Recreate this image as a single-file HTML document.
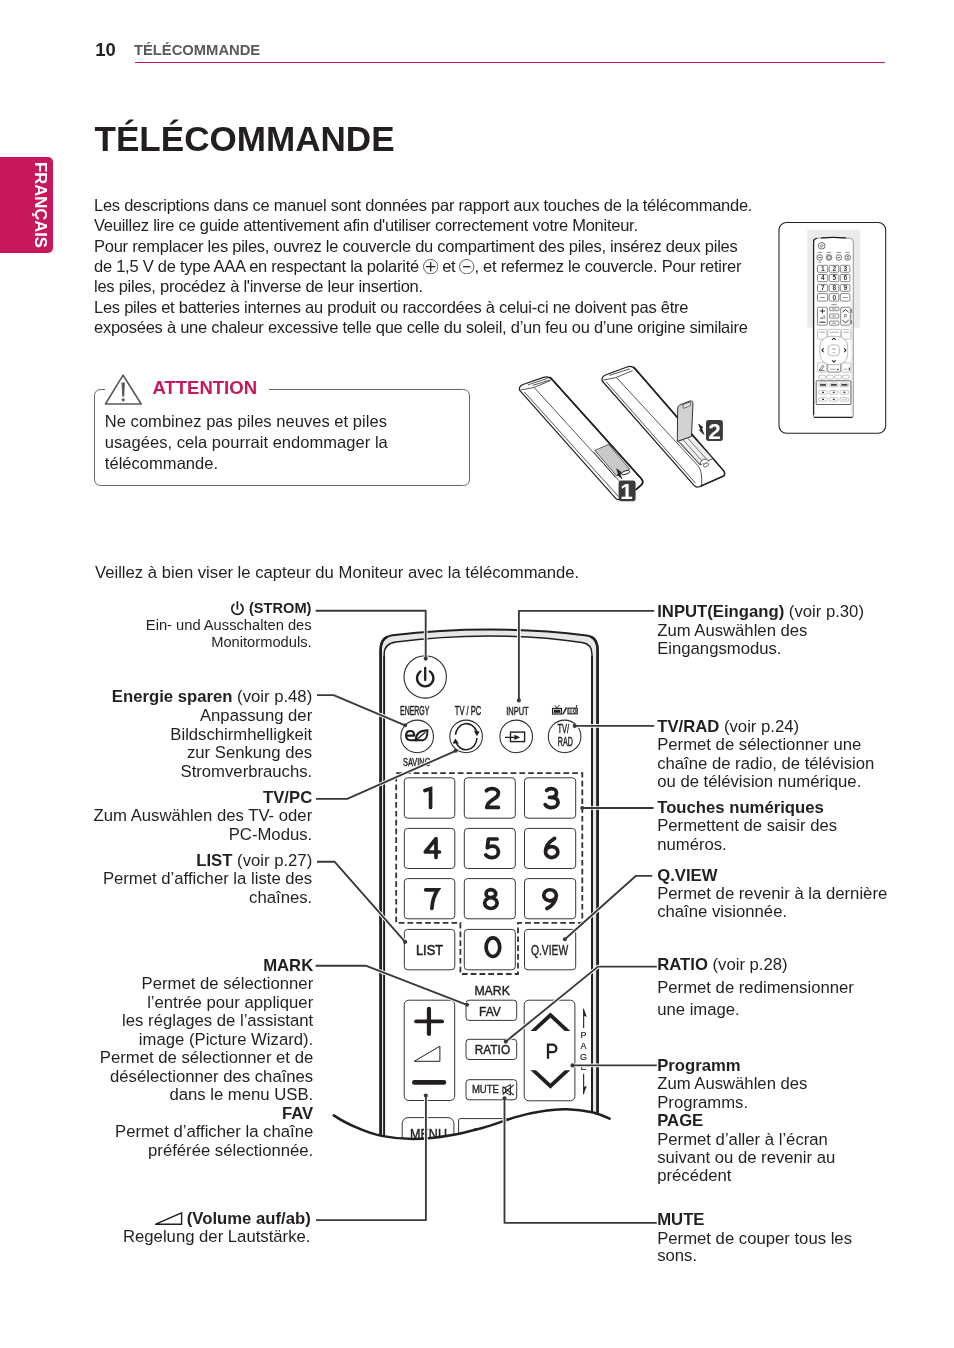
<!DOCTYPE html>
<html><head><meta charset="utf-8"><title>Télécommande</title>
<style>
html,body{margin:0;padding:0;background:#fff;}
body{width:954px;height:1348px;position:relative;overflow:hidden;font-family:"Liberation Sans",sans-serif;color:#231f20;}
.a{position:absolute;white-space:nowrap;}
b{font-weight:bold;}
.pm{display:inline-block;width:15.4px;height:15.4px;vertical-align:-2.4px;margin:0 -0.4px;}
.pm svg{display:block;}
#gfx{position:absolute;left:0;top:0;}
#pg{position:absolute;left:0;top:0;width:954px;height:1348px;will-change:transform;}
#gfx text{font-family:"Liberation Sans",sans-serif;fill:#231f20;}
</style></head><body><div id="pg">
<div class="a" style="top:39.48px;font-size:18.4px;line-height:22.08px;left:95.20px;font-weight:bold;">10</div>
<div class="a" style="top:42.04px;font-size:14.75px;line-height:17.7px;left:134.00px;font-weight:bold;color:#58595b;">TÉLÉCOMMANDE</div>
<div class="a" style="left:135px;top:61.8px;width:750px;height:1.2px;background:#c8175d;"></div>
<div class="a" style="left:0;top:157px;width:53px;height:96px;background:#c8175d;border-radius:0 5px 5px 0;"></div>
<div class="a" id="fr" style="left:34.3px;top:162px;font-size:16.65px;line-height:16.5px;font-weight:bold;color:#fff;transform-origin:0 0;transform:rotate(90deg) translate(0,-100%);height:13.6px;">FRANÇAIS</div>
<div class="a" style="top:117.98px;font-size:35.1px;line-height:42.12px;left:94.50px;font-weight:bold;">TÉLÉCOMMANDE</div>
<div class="a" style="top:196.08px;font-size:16.5px;line-height:19.8px;left:94.00px;letter-spacing:-0.255px;">Les descriptions dans ce manuel sont données par rapport aux touches de la télécommande.</div>
<div class="a" style="top:216.40px;font-size:16.5px;line-height:19.8px;left:94.00px;letter-spacing:-0.255px;">Veuillez lire ce guide attentivement afin d'utiliser correctement votre Moniteur.</div>
<div class="a" style="top:236.72px;font-size:16.5px;line-height:19.8px;left:94.00px;letter-spacing:-0.255px;">Pour remplacer les piles, ouvrez le couvercle du compartiment des piles, insérez deux piles</div>
<div class="a" style="top:257.04px;font-size:16.5px;line-height:19.8px;left:94.00px;letter-spacing:-0.255px;">de 1,5 V de type AAA en respectant la polarité <span class="pm"><svg width="15.4" height="15.4" viewBox="0 0 15.4 15.4"><circle cx="7.7" cy="7.7" r="7.2" fill="none" stroke="#3a3637" stroke-width="0.8"/><path d="M3,7.7H12.4M7.7,3V12.4" stroke="#231f20" stroke-width="1.3" fill="none"/></svg></span> et <span class="pm"><svg width="15.4" height="15.4" viewBox="0 0 15.4 15.4"><circle cx="7.7" cy="7.7" r="7.2" fill="none" stroke="#3a3637" stroke-width="0.8"/><path d="M4,7.7H11.4" stroke="#231f20" stroke-width="1.3" fill="none"/></svg></span>, et refermez le couvercle. Pour retirer</div>
<div class="a" style="top:277.36px;font-size:16.5px;line-height:19.8px;left:94.00px;letter-spacing:-0.255px;">les piles, procédez à l'inverse de leur insertion.</div>
<div class="a" style="top:297.68px;font-size:16.5px;line-height:19.8px;left:94.00px;letter-spacing:-0.255px;">Les piles et batteries internes au produit ou raccordées à celui-ci ne doivent pas être</div>
<div class="a" style="top:318.00px;font-size:16.5px;line-height:19.8px;left:94.00px;letter-spacing:-0.255px;">exposées à une chaleur excessive telle que celle du soleil, d’un feu ou d’une origine similaire</div>
<div class="a" style="left:94.3px;top:388.8px;width:375.5px;height:97.2px;border:1.4px solid #6a6668;border-radius:6.4px;box-sizing:border-box;"></div>
<div class="a" style="left:105px;top:370px;width:164.2px;height:32px;background:#fff;"></div>
<div class="a" style="top:376.84px;font-size:18.55px;line-height:22.26px;left:152.40px;font-weight:bold;color:#c8175d;">ATTENTION</div>
<div class="a" style="top:412.18px;font-size:16.5px;line-height:19.8px;left:104.80px;letter-spacing:0.04px;">Ne combinez pas piles neuves et piles</div>
<div class="a" style="top:432.98px;font-size:16.5px;line-height:19.8px;left:104.80px;letter-spacing:0.04px;">usagées, cela pourrait endommager la</div>
<div class="a" style="top:453.78px;font-size:16.5px;line-height:19.8px;left:104.80px;letter-spacing:0.04px;">télécommande.</div>
<div class="a" style="top:563.33px;font-size:16.66px;line-height:19.99px;left:95.00px;">Veillez à bien viser le capteur du Moniteur avec la télécommande.</div>
<div class="a" style="top:600.18px;font-size:14.6px;line-height:17.52px;right:642.60px;font-weight:bold;">(STROM)</div>
<div class="a" style="top:616.79px;font-size:14.7px;line-height:17.64px;right:642.40px;">Ein- und Ausschalten des</div>
<div class="a" style="top:633.69px;font-size:14.7px;line-height:17.64px;right:642.40px;">Monitormoduls.</div>
<div class="a" style="top:687.09px;font-size:16.7px;line-height:20.04px;right:641.80px;"><b>Energie sparen</b> (voir p.48)</div>
<div class="a" style="top:705.89px;font-size:16.7px;line-height:20.04px;right:641.80px;">Anpassung der</div>
<div class="a" style="top:724.59px;font-size:16.7px;line-height:20.04px;right:641.80px;">Bildschirmhelligkeit</div>
<div class="a" style="top:743.29px;font-size:16.7px;line-height:20.04px;right:641.80px;">zur Senkung des</div>
<div class="a" style="top:761.99px;font-size:16.7px;line-height:20.04px;right:641.80px;">Stromverbrauchs.</div>
<div class="a" style="top:787.69px;font-size:16.7px;line-height:20.04px;right:641.80px;"><b>TV/PC</b></div>
<div class="a" style="top:806.19px;font-size:16.7px;line-height:20.04px;right:641.80px;">Zum Auswählen des TV- oder</div>
<div class="a" style="top:824.69px;font-size:16.7px;line-height:20.04px;right:641.80px;">PC-Modus.</div>
<div class="a" style="top:850.69px;font-size:16.7px;line-height:20.04px;right:641.80px;"><b>LIST</b> (voir p.27)</div>
<div class="a" style="top:869.49px;font-size:16.7px;line-height:20.04px;right:641.80px;">Permet d’afficher la liste des</div>
<div class="a" style="top:887.89px;font-size:16.7px;line-height:20.04px;right:641.80px;">chaînes.</div>
<div class="a" style="top:955.69px;font-size:16.7px;line-height:20.04px;right:640.80px;"><b>MARK</b></div>
<div class="a" style="top:974.21px;font-size:16.7px;line-height:20.04px;right:640.80px;">Permet de sélectionner</div>
<div class="a" style="top:992.73px;font-size:16.7px;line-height:20.04px;right:640.80px;">l’entrée pour appliquer</div>
<div class="a" style="top:1011.25px;font-size:16.7px;line-height:20.04px;right:640.80px;">les réglages de l’assistant</div>
<div class="a" style="top:1029.77px;font-size:16.7px;line-height:20.04px;right:640.80px;">image (Picture Wizard).</div>
<div class="a" style="top:1048.29px;font-size:16.7px;line-height:20.04px;right:640.80px;">Permet de sélectionner et de</div>
<div class="a" style="top:1066.81px;font-size:16.7px;line-height:20.04px;right:640.80px;">désélectionner des chaînes</div>
<div class="a" style="top:1085.33px;font-size:16.7px;line-height:20.04px;right:640.80px;">dans le menu USB.</div>
<div class="a" style="top:1103.85px;font-size:16.7px;line-height:20.04px;right:640.80px;"><b>FAV</b></div>
<div class="a" style="top:1122.37px;font-size:16.7px;line-height:20.04px;right:640.80px;">Permet d’afficher la chaîne</div>
<div class="a" style="top:1140.89px;font-size:16.7px;line-height:20.04px;right:640.80px;">préférée sélectionnée.</div>
<div class="a" style="top:1208.99px;font-size:16.7px;line-height:20.04px;right:643.30px;"><b>(Volume auf/ab)</b></div>
<div class="a" style="top:1227.19px;font-size:16.7px;line-height:20.04px;right:643.60px;">Regelung der Lautstärke.</div>
<div class="a" style="top:602.39px;font-size:16.7px;line-height:20.04px;left:657.20px;"><b>INPUT(Eingang)</b> (voir p.30)</div>
<div class="a" style="top:620.89px;font-size:16.7px;line-height:20.04px;left:657.20px;">Zum Auswählen des</div>
<div class="a" style="top:639.19px;font-size:16.7px;line-height:20.04px;left:657.20px;">Eingangsmodus.</div>
<div class="a" style="top:716.79px;font-size:16.7px;line-height:20.04px;left:657.20px;"><b>TV/RAD</b> (voir p.24)</div>
<div class="a" style="top:735.19px;font-size:16.7px;line-height:20.04px;left:657.20px;">Permet de sélectionner une</div>
<div class="a" style="top:753.59px;font-size:16.7px;line-height:20.04px;left:657.20px;">chaîne de radio, de télévision</div>
<div class="a" style="top:771.99px;font-size:16.7px;line-height:20.04px;left:657.20px;">ou de télévision numérique.</div>
<div class="a" style="top:797.79px;font-size:16.7px;line-height:20.04px;left:657.20px;"><b>Touches numériques</b></div>
<div class="a" style="top:816.39px;font-size:16.7px;line-height:20.04px;left:657.20px;">Permettent de saisir des</div>
<div class="a" style="top:834.59px;font-size:16.7px;line-height:20.04px;left:657.20px;">numéros.</div>
<div class="a" style="top:865.69px;font-size:16.7px;line-height:20.04px;left:657.20px;"><b>Q.VIEW</b></div>
<div class="a" style="top:883.89px;font-size:16.7px;line-height:20.04px;left:657.20px;">Permet de revenir à la dernière</div>
<div class="a" style="top:902.39px;font-size:16.7px;line-height:20.04px;left:657.20px;">chaîne visionnée.</div>
<div class="a" style="top:954.99px;font-size:16.7px;line-height:20.04px;left:657.20px;"><b>RATIO</b> (voir p.28)</div>
<div class="a" style="top:977.59px;font-size:16.7px;line-height:20.04px;left:657.20px;">Permet de redimensionner</div>
<div class="a" style="top:999.99px;font-size:16.7px;line-height:20.04px;left:657.20px;">une image.</div>
<div class="a" style="top:1055.59px;font-size:16.7px;line-height:20.04px;left:657.20px;"><b>Programm</b></div>
<div class="a" style="top:1074.19px;font-size:16.7px;line-height:20.04px;left:657.20px;">Zum Auswählen des</div>
<div class="a" style="top:1092.69px;font-size:16.7px;line-height:20.04px;left:657.20px;">Programms.</div>
<div class="a" style="top:1111.09px;font-size:16.7px;line-height:20.04px;left:657.20px;"><b>PAGE</b></div>
<div class="a" style="top:1129.89px;font-size:16.7px;line-height:20.04px;left:657.20px;">Permet d’aller à l’écran</div>
<div class="a" style="top:1147.89px;font-size:16.7px;line-height:20.04px;left:657.20px;">suivant ou de revenir au</div>
<div class="a" style="top:1166.29px;font-size:16.7px;line-height:20.04px;left:657.20px;">précédent</div>
<div class="a" style="top:1209.89px;font-size:16.7px;line-height:20.04px;left:657.20px;"><b>MUTE</b></div>
<div class="a" style="top:1228.89px;font-size:16.7px;line-height:20.04px;left:657.20px;">Permet de couper tous les</div>
<div class="a" style="top:1246.49px;font-size:16.7px;line-height:20.04px;left:657.20px;">sons.</div>
<svg id="gfx" width="954" height="1348" viewBox="0 0 954 1348">
<clipPath id="rc"><path d="M300,600 L700,600 L700,1118.6 L609.6,1118.6 C604,1116 598,1113.8 592.3,1112.3 C584,1110.4 576,1109.4 567.1,1109.2 C560,1109 552,1109.6 545.1,1110.7 C534,1112.2 524,1114.4 513.7,1117.6 C503,1121 493,1125 482.2,1128 C472,1130.6 462,1133.2 450.8,1135.3 C438,1137.6 426,1139 413,1139 C402,1139 392,1138 381.6,1135.9 C365,1132.5 345,1123 333.8,1115.4 L300,1115.4 Z"/></clipPath>
<g clip-path="url(#rc)">
<path d="M380.6,1160 L380.6,650 Q380.6,637 392.5,635.3 Q440,629.6 489.5,629.6 Q540,629.6 586.5,635.4 Q597.6,637 597.6,650 L597.6,1160" fill="#e7e7e8" stroke="#231f20" stroke-width="2.0"/>
<path d="M380.6,1160 L380.6,650 Q380.6,640 387,636.8" fill="none" stroke="#231f20" stroke-width="2.6"/>
<path d="M597.6,1160 L597.6,650 Q597.6,640 591.5,636.8" fill="none" stroke="#231f20" stroke-width="2.6"/>
<path d="M384.2,1160 L384.2,654 Q384.2,643.6 396,642.1 Q440,636.2 489,636 Q540,636 582,642.6 Q592,644 592,654.5 L592,1160" fill="#fff" stroke="#231f20" stroke-width="1.5"/>
<path d="M384.2,1160 L384.2,656" fill="none" stroke="#231f20" stroke-width="1.8"/>
<path d="M592,1160 L592,656" fill="none" stroke="#231f20" stroke-width="2.0"/>
<circle cx="425.2" cy="676.9" r="21.2" fill="#fff" stroke="#2e2a2b" stroke-width="1.1"/>
<path d="M420.6,671.4 A8.2,8.2 0 1 0 429.8,671.4" fill="none" stroke="#231f20" stroke-width="2.3" stroke-linecap="round"/>
<path d="M425.2,667.8 V680" fill="none" stroke="#231f20" stroke-width="2.3" stroke-linecap="round"/>
<circle cx="417.15" cy="736.4" r="16.3" fill="#fff" stroke="#2e2a2b" stroke-width="1.05"/>
<circle cx="466.1" cy="736.4" r="16.3" fill="#fff" stroke="#2e2a2b" stroke-width="1.05"/>
<circle cx="516.2" cy="736.4" r="16.3" fill="#fff" stroke="#2e2a2b" stroke-width="1.05"/>
<circle cx="564.6" cy="736.4" r="16.3" fill="#fff" stroke="#2e2a2b" stroke-width="1.05"/>
<text x="414.70" y="714.60" font-size="12" font-weight="normal" text-anchor="middle" textLength="29.4" lengthAdjust="spacingAndGlyphs" stroke="#231f20" stroke-width="0.45" stroke-linejoin="round" >ENERGY</text>
<text x="468.00" y="714.60" font-size="12" font-weight="normal" text-anchor="middle" textLength="26.4" lengthAdjust="spacingAndGlyphs" stroke="#231f20" stroke-width="0.45" stroke-linejoin="round" >TV / PC</text>
<text x="517.45" y="714.50" font-size="11.6" font-weight="normal" text-anchor="middle" textLength="22.5" lengthAdjust="spacingAndGlyphs" stroke="#231f20" stroke-width="0.45" stroke-linejoin="round" >INPUT</text>
<text x="416.70" y="765.70" font-size="11.6" font-weight="normal" text-anchor="middle" textLength="27.4" lengthAdjust="spacingAndGlyphs" stroke="#231f20" stroke-width="0.45" stroke-linejoin="round" >SAVING</text>
<path d="M406.1,735.6 H414.3 C414.3,732.6 412.8,730.95 410.3,730.95 C407.7,730.95 406.05,732.9 406.05,735.6 C406.05,738.4 407.8,740.25 410.6,740.25 L417,740.1" fill="none" stroke="#231f20" stroke-width="2.1" stroke-linejoin="round"/>
<path d="M427.5,730.3 C421.4,730.4 415.9,732.4 415.7,740.2 L422.9,740.2 C426.7,739.8 427.5,736 427.5,730.3 Z" fill="none" stroke="#231f20" stroke-width="1.9" stroke-linejoin="miter"/>
<path d="M416.4,739.8 L425.4,732.2" fill="none" stroke="#231f20" stroke-width="1.3"/>
<path d="M455.5,734.8 A11,12.4 0 0 1 476.7,731.6" fill="none" stroke="#231f20" stroke-width="1.6"/>
<path d="M477,738.0 A11,12.4 0 0 1 455.7,741.6" fill="none" stroke="#231f20" stroke-width="1.6"/>
<path d="M474.0,730.8 L479.6,731.4 L476.9,736.2 Z" fill="#231f20"/>
<path d="M452.6,743.4 L458.8,743.6 L455.3,738.6 Z" fill="#231f20"/>
<rect x="510.5" y="732.1" width="14.1" height="9.5" fill="none" stroke="#231f20" stroke-width="1.4"/>
<path d="M505,737.3 H516" stroke="#231f20" stroke-width="1.3" fill="none"/>
<path d="M514.4,734.7 L520.2,737.3 L514.4,739.9 Z" fill="#231f20"/>
<text x="563.35" y="733.40" font-size="12.2" font-weight="normal" text-anchor="middle" textLength="11.7" lengthAdjust="spacingAndGlyphs" stroke="#231f20" stroke-width="0.45" stroke-linejoin="round" >TV/</text>
<text x="565.30" y="745.80" font-size="11.9" font-weight="normal" text-anchor="middle" textLength="15.1" lengthAdjust="spacingAndGlyphs" stroke="#231f20" stroke-width="0.45" stroke-linejoin="round" >RAD</text>
<rect x="552.6" y="708.4" width="8.8" height="5.6" fill="#fff" stroke="#231f20" stroke-width="1.2"/>
<rect x="553.9" y="709.7" width="6.3" height="3.1" fill="#231f20"/>
<path d="M554.8,705.4 L556.9,707.8 L559.5,705" fill="none" stroke="#231f20" stroke-width="1"/>
<path d="M562.8,714.5 L566.5,707.4" fill="none" stroke="#231f20" stroke-width="1.5"/>
<rect x="568" y="708.2" width="9.2" height="5.6" fill="#fff" stroke="#231f20" stroke-width="1.2"/>
<circle cx="574.6" cy="711" r="1.5" fill="#fff" stroke="#231f20" stroke-width="1"/>
<path d="M569.4,709.9 H571.8 M569.4,711.1 H571.8 M569.4,712.3 H571.8" stroke="#231f20" stroke-width="0.7" fill="none"/>
<path d="M576.2,707.6 L576.9,705" stroke="#231f20" stroke-width="1" fill="none"/>
<rect x="404.3" y="777.8" width="50.5" height="40.4" rx="3.4" fill="#fff" stroke="#3a3637" stroke-width="1.0" />
<rect x="464.3" y="777.8" width="51.0" height="40.4" rx="3.4" fill="#fff" stroke="#3a3637" stroke-width="1.0" />
<rect x="524.5" y="777.8" width="51.2" height="40.4" rx="3.4" fill="#fff" stroke="#3a3637" stroke-width="1.0" />
<rect x="404.3" y="828.4" width="50.5" height="40.1" rx="3.4" fill="#fff" stroke="#3a3637" stroke-width="1.0" />
<rect x="464.3" y="828.4" width="51.0" height="40.1" rx="3.4" fill="#fff" stroke="#3a3637" stroke-width="1.0" />
<rect x="524.5" y="828.4" width="51.2" height="40.1" rx="3.4" fill="#fff" stroke="#3a3637" stroke-width="1.0" />
<rect x="404.3" y="878.6" width="50.5" height="40.2" rx="3.4" fill="#fff" stroke="#3a3637" stroke-width="1.0" />
<rect x="464.3" y="878.6" width="51.0" height="40.2" rx="3.4" fill="#fff" stroke="#3a3637" stroke-width="1.0" />
<rect x="524.5" y="878.6" width="51.2" height="40.2" rx="3.4" fill="#fff" stroke="#3a3637" stroke-width="1.0" />
<rect x="404.3" y="929.4" width="50.5" height="40.4" rx="3.4" fill="#fff" stroke="#3a3637" stroke-width="1.0" />
<rect x="464.3" y="929.4" width="51.0" height="40.4" rx="3.4" fill="#fff" stroke="#3a3637" stroke-width="1.0" />
<rect x="524.5" y="929.4" width="51.2" height="40.4" rx="3.4" fill="#fff" stroke="#3a3637" stroke-width="1.0" />
<path d="M424.9,790.5 L430.55,788.8 V807.4" fill="none" stroke="#231f20" stroke-width="3.7" stroke-linecap="round" stroke-linejoin="miter" stroke-miterlimit="3"/>
<path d="M486.4,790.7 C487.6,789.4 489.8,788.7 492.4,788.7 C495.9,788.7 498.4,790.4 498.4,793.2 C498.4,796 496.4,797.6 494,798.9 C490.6,800.8 487.2,803 486.7,807.4 L498.4,807.4" fill="none" stroke="#231f20" stroke-width="3.7" stroke-linecap="round" stroke-linejoin="round" stroke-miterlimit="3"/>
<path d="M546.7,790.4 C547.8,789.3 549.4,788.7 551.4,788.7 C554.4,788.7 556.5,790.4 556.5,792.9 C556.5,795.6 554.2,797.3 550.4,797.3 L549.4,797.3 M550.4,797.3 C555,797.3 558.1,799 558.1,802.2 C558.1,805.4 555.2,807.6 551.2,807.6 C548.4,807.6 546.4,806.4 545.2,804.6" fill="none" stroke="#231f20" stroke-width="3.7" stroke-linecap="round" stroke-linejoin="round" stroke-miterlimit="3"/>
<path d="M436,857.4 V838.7 L425.3,852 H439.5" fill="none" stroke="#231f20" stroke-width="3.7" stroke-linecap="round" stroke-linejoin="round" stroke-miterlimit="3"/>
<path d="M497.1,839 H488.4 L487.3,847.8 C488.8,846.7 490.6,846.1 492.7,846.1 C496,846.1 498.4,848.5 498.4,851.9 C498.4,855.3 495.7,857.6 491.9,857.6 C489.2,857.6 487,856.5 485.8,854.9" fill="none" stroke="#231f20" stroke-width="3.7" stroke-linecap="round" stroke-linejoin="round" stroke-miterlimit="3"/>
<path d="M554.6,838.4 C549.5,841.5 545.5,846.8 545.5,852.1 A6.2,5.5 0 1 0 557.9,852.1 A6.2,5.5 0 1 0 545.5,852.1" fill="none" stroke="#231f20" stroke-width="3.7" stroke-linecap="round" stroke-linejoin="round" stroke-miterlimit="3"/>
<path d="M425.7,889.8 H437.8 C434.2,895 432.4,901 431.9,908.3" fill="none" stroke="#231f20" stroke-width="3.7" stroke-linecap="round" stroke-linejoin="miter" stroke-miterlimit="3"/>
<path d="M486.05,893.7 A4.85,3.98 0 1 0 495.75,893.7 A4.85,3.98 0 1 0 486.05,893.7 M484.65,903.1 A6.25,5.4 0 1 0 497.15,903.1 A6.25,5.4 0 1 0 484.65,903.1" fill="none" stroke="#231f20" stroke-width="3.7" stroke-linecap="round" stroke-linejoin="round" stroke-miterlimit="3"/>
<path d="M556.35,895.3 A6.3,5.55 0 1 0 543.75,895.3 A6.3,5.55 0 1 0 556.35,895.3 C556.35,901 552,906 546.9,908.5" fill="none" stroke="#231f20" stroke-width="3.7" stroke-linecap="round" stroke-linejoin="round" stroke-miterlimit="3"/>
<path d="M486.05,947.2 A6.85,9.3 0 1 0 499.75,947.2 A6.85,9.3 0 1 0 486.05,947.2" fill="none" stroke="#231f20" stroke-width="3.7" stroke-linecap="round" stroke-linejoin="round" stroke-miterlimit="3"/>
<text x="429.50" y="954.70" font-size="14" font-weight="normal" text-anchor="middle" textLength="27.0" lengthAdjust="spacingAndGlyphs" stroke="#231f20" stroke-width="0.55" stroke-linejoin="round" >LIST</text>
<text x="549.55" y="954.50" font-size="15.2" font-weight="normal" text-anchor="middle" textLength="37.3" lengthAdjust="spacingAndGlyphs" stroke="#231f20" stroke-width="0.45" stroke-linejoin="round" >Q.VIEW</text>
<path d="M396.2,773.2 H582.3 V922.8 H518 V974 H460.4 V922.8 H396.2 Z" fill="none" stroke="#333" stroke-width="1.8" stroke-dasharray="5.7,3.1"/>
<rect x="404.2" y="1000.2" width="50.5" height="100.3" rx="4.5" fill="#fff" stroke="#3a3637" stroke-width="1.0" />
<rect x="524.2" y="1000.2" width="50.7" height="100.6" rx="4.5" fill="#fff" stroke="#3a3637" stroke-width="1.0" />
<rect x="466.0" y="1000.2" width="50.7" height="20.2" rx="3" fill="#fff" stroke="#3a3637" stroke-width="1.0" />
<rect x="466.0" y="1039.3" width="50.7" height="20.2" rx="3" fill="#fff" stroke="#3a3637" stroke-width="1.0" />
<rect x="466.0" y="1079.7" width="50.7" height="20.1" rx="3" fill="#fff" stroke="#3a3637" stroke-width="1.0" />
<path d="M416,1021.4 H442.1" fill="none" stroke="#231f20" stroke-width="3.8" stroke-linecap="round"/>
<path d="M428.95,1008.8 V1034" fill="none" stroke="#231f20" stroke-width="4.2" stroke-linecap="round"/>
<path d="M414.2,1061.3 H439.9 V1046.2 Z" fill="none" stroke="#231f20" stroke-width="1" stroke-linejoin="miter"/>
<path d="M414.3,1082.4 H443.9" fill="none" stroke="#231f20" stroke-width="4.6" stroke-linecap="round"/>
<text x="492.15" y="994.65" font-size="12.9" font-weight="normal" text-anchor="middle" textLength="35.5" lengthAdjust="spacingAndGlyphs" stroke="#231f20" stroke-width="0.4" stroke-linejoin="round" >MARK</text>
<text x="489.90" y="1016.30" font-size="12.9" font-weight="normal" text-anchor="middle" textLength="21.8" lengthAdjust="spacingAndGlyphs" stroke="#231f20" stroke-width="0.45" stroke-linejoin="round" >FAV</text>
<text x="492.45" y="1053.70" font-size="12.9" font-weight="normal" text-anchor="middle" textLength="35.3" lengthAdjust="spacingAndGlyphs" stroke="#231f20" stroke-width="0.45" stroke-linejoin="round" >RATIO</text>
<text x="485.40" y="1092.65" font-size="10.8" font-weight="normal" text-anchor="middle" textLength="27.0" lengthAdjust="spacingAndGlyphs" stroke="#231f20" stroke-width="0.35" stroke-linejoin="round" >MUTE</text>
<path d="M502.9,1087.3 H505.6 L510.4,1084.6 V1095.2 L505.6,1092.5 H502.9 Z" fill="#fff" stroke="#231f20" stroke-width="1" stroke-linejoin="round"/>
<path d="M505.6,1087.3 V1092.5" stroke="#231f20" stroke-width="0.9"/>
<path d="M502.6,1086.6 L513.8,1095 M513.8,1084.8 L502.6,1094.5" fill="none" stroke="#231f20" stroke-width="1.1"/>
<clipPath id="cu"><rect x="525" y="1005" width="50" height="26"/></clipPath><clipPath id="cd"><rect x="525" y="1070.2" width="50" height="26"/></clipPath>
<path clip-path="url(#cu)" d="M531.2,1032.9 L550.4,1015 L569.6,1032.9" fill="none" stroke="#231f20" stroke-width="3.8" stroke-linejoin="miter"/>
<path clip-path="url(#cd)" d="M531.2,1068.3 L550.4,1086.1 L569.6,1068.3" fill="none" stroke="#231f20" stroke-width="3.8" stroke-linejoin="miter"/>
<path d="M548.0,1058.7 V1044.7 H552.6 A3.75,3.75 0 0 1 552.6,1052.2 H548.0" fill="none" stroke="#231f20" stroke-width="2.3" stroke-linejoin="miter"/>
<text x="583.50" y="1037.60" font-size="8.9" font-weight="normal" text-anchor="middle" stroke="#231f20" stroke-width="0.2" stroke-linejoin="round" >P</text>
<text x="583.50" y="1048.70" font-size="8.9" font-weight="normal" text-anchor="middle" stroke="#231f20" stroke-width="0.2" stroke-linejoin="round" >A</text>
<text x="583.50" y="1059.60" font-size="8.9" font-weight="normal" text-anchor="middle" stroke="#231f20" stroke-width="0.2" stroke-linejoin="round" >G</text>
<text x="583.50" y="1069.60" font-size="8.9" font-weight="normal" text-anchor="middle" stroke="#231f20" stroke-width="0.2" stroke-linejoin="round" >E</text>
<path d="M583.65,1028.1 V1009" stroke="#231f20" stroke-width="1.1" fill="none"/><path d="M583.1,1007.4 L586.8,1016.7 L584.2,1016 Z" fill="#231f20"/>
<path d="M583.65,1073.8 V1094" stroke="#231f20" stroke-width="1.1" fill="none"/><path d="M582.9,1095.4 L586.8,1086.1 L584.2,1086.8 Z" fill="#231f20"/>
<rect x="402.2" y="1117.6" width="51.7" height="42.4" rx="6" fill="#fff" stroke="#3a3637" stroke-width="1.0" />
<rect x="458.6" y="1118.6" width="66.4" height="41.4" rx="1" fill="#fff" stroke="#3a3637" stroke-width="1.0" />
<text x="428.50" y="1139.40" font-size="14.6" font-weight="normal" text-anchor="middle" textLength="37.0" lengthAdjust="spacingAndGlyphs" stroke="#231f20" stroke-width="0.45" stroke-linejoin="round" >MENU</text>
<circle cx="475.3" cy="1129.6" r="1.5" fill="#231f20"/>
</g>
<path d="M333.8,1115.4 C345,1123 365,1132.5 381.6,1135.9 C392,1138 402,1139 413,1139 C426,1139 438,1137.6 450.8,1135.3 C462,1133.2 472,1130.6 482.2,1128 C493,1125 503,1121 513.7,1117.6 C524,1114.4 534,1112.2 545.1,1110.7 C552,1109.6 560,1109 567.1,1109.2 C576,1109.4 584,1110.4 592.3,1112.3 C598,1113.8 604,1116 609.6,1118.6" fill="none" stroke="#231f20" stroke-width="2.5" stroke-linecap="round"/>
<path d="M315.7,610.7 H425.7 V658.4" fill="none" stroke="#fff" stroke-width="3.7" stroke-linejoin="round"/>
<path d="M317,695.1 H333.6 L405.1,725.3" fill="none" stroke="#fff" stroke-width="3.7" stroke-linejoin="round"/>
<path d="M316,798.9 H347.2 L455.7,750.8" fill="none" stroke="#fff" stroke-width="3.7" stroke-linejoin="round"/>
<path d="M317,861.7 H334.5 L405.1,941.9" fill="none" stroke="#fff" stroke-width="3.7" stroke-linejoin="round"/>
<path d="M315.6,965.7 H365.7 L467,1004.8" fill="none" stroke="#fff" stroke-width="3.7" stroke-linejoin="round"/>
<path d="M316,1220.1 H425.9 V1095.5" fill="none" stroke="#fff" stroke-width="3.7" stroke-linejoin="round"/>
<path d="M656.8,1222.8 H504.5 V1098.3" fill="none" stroke="#fff" stroke-width="3.7" stroke-linejoin="round"/>
<path d="M654.2,610.8 H518.9 V700" fill="none" stroke="#fff" stroke-width="3.7" stroke-linejoin="round"/>
<path d="M654.2,725.9 H574.7" fill="none" stroke="#fff" stroke-width="3.7" stroke-linejoin="round"/>
<path d="M653.6,808 H582.3" fill="none" stroke="#fff" stroke-width="3.7" stroke-linejoin="round"/>
<path d="M652.3,875.8 H636 L564.9,939.3" fill="none" stroke="#fff" stroke-width="3.7" stroke-linejoin="round"/>
<path d="M656.8,966.6 H598 L505.8,1041.6" fill="none" stroke="#fff" stroke-width="3.7" stroke-linejoin="round"/>
<path d="M656.8,1065.4 H572.5" fill="none" stroke="#fff" stroke-width="3.7" stroke-linejoin="round"/>
<path d="M315.7,610.7 H425.7 V658.4" fill="none" stroke="#3b3838" stroke-width="1.85" stroke-linejoin="round"/><circle cx="425.7" cy="658.6" r="2.05" fill="#3b3838"/>
<path d="M317,695.1 H333.6 L405.1,725.3" fill="none" stroke="#3b3838" stroke-width="1.85" stroke-linejoin="round"/><circle cx="405.1" cy="725.3" r="2.05" fill="#3b3838"/>
<path d="M316,798.9 H347.2 L455.7,750.8" fill="none" stroke="#3b3838" stroke-width="1.85" stroke-linejoin="round"/><circle cx="455.7" cy="750.8" r="2.05" fill="#3b3838"/>
<path d="M317,861.7 H334.5 L405.1,941.9" fill="none" stroke="#3b3838" stroke-width="1.85" stroke-linejoin="round"/><circle cx="405.1" cy="941.9" r="2.05" fill="#3b3838"/>
<path d="M315.6,965.7 H365.7 L467,1004.8" fill="none" stroke="#3b3838" stroke-width="1.85" stroke-linejoin="round"/><circle cx="467" cy="1004.8" r="2.05" fill="#3b3838"/>
<path d="M316,1220.1 H425.9 V1095.5" fill="none" stroke="#3b3838" stroke-width="1.85" stroke-linejoin="round"/><circle cx="425.8" cy="1095.5" r="2.05" fill="#3b3838"/>
<path d="M656.8,1222.8 H504.5 V1098.3" fill="none" stroke="#3b3838" stroke-width="1.85" stroke-linejoin="round"/><circle cx="504.5" cy="1098.3" r="2.05" fill="#3b3838"/>
<path d="M654.2,610.8 H518.9 V700" fill="none" stroke="#3b3838" stroke-width="1.85" stroke-linejoin="round"/><circle cx="518.9" cy="700.4" r="2.05" fill="#3b3838"/>
<path d="M654.2,725.9 H574.7" fill="none" stroke="#3b3838" stroke-width="1.85" stroke-linejoin="round"/><circle cx="574.7" cy="725.9" r="2.05" fill="#3b3838"/>
<path d="M653.6,808 H582.3" fill="none" stroke="#3b3838" stroke-width="1.85" stroke-linejoin="round"/><circle cx="582.3" cy="808" r="2.05" fill="#3b3838"/>
<path d="M652.3,875.8 H636 L564.9,939.3" fill="none" stroke="#3b3838" stroke-width="1.85" stroke-linejoin="round"/><circle cx="564.9" cy="939.3" r="2.05" fill="#3b3838"/>
<path d="M656.8,966.6 H598 L505.8,1041.6" fill="none" stroke="#3b3838" stroke-width="1.85" stroke-linejoin="round"/><circle cx="505.8" cy="1041.6" r="2.05" fill="#3b3838"/>
<path d="M656.8,1065.4 H572.5" fill="none" stroke="#3b3838" stroke-width="1.85" stroke-linejoin="round"/><circle cx="572.5" cy="1065.4" r="2.05" fill="#3b3838"/>
<path d="M233.9,604.4 A5.6,5.6 0 1 0 240.9,604.4" fill="none" stroke="#231f20" stroke-width="1.7" stroke-linecap="round"/><path d="M237.4,601.8 V608.8" stroke="#231f20" stroke-width="1.7" stroke-linecap="round" fill="none"/>
<path d="M155.2,1224.3 H181.6 V1212.8 Z" fill="none" stroke="#231f20" stroke-width="1.4" stroke-linejoin="miter"/>
<path d="M123.1,375.2 L141.2,404 H105.4 Z" fill="#fff" stroke="#58595b" stroke-width="1.6" stroke-linejoin="round"/>
<path d="M121.5,382.6 H124.9 L124.2,396.6 H122.2 Z" fill="#58595b"/><circle cx="123.2" cy="399.8" r="1.6" fill="#58595b"/>
<path d="M519.5,390.2 C518.9,387.2 520.2,385.6 523,384.5 L543.5,377.4 C547.6,376 550.2,377.2 552.6,380 L641.6,479 Q643.9,482 641.6,484.6 L636,489.6 L619.6,499.3 Q617.2,500.2 615.7,498.4 Z" fill="#fff" stroke="#231f20" stroke-width="1.2" stroke-linejoin="round"/>
<path d="M549.6,377.4 Q551.4,378.4 552.6,380 L641.6,479 Q643.9,482 641.6,484.6 L636,489.6" fill="none" stroke="#231f20" stroke-width="1.8"/>
<path d="M524.2,391.9 L618.3,496.4 M534.3,387.6 L619.6,481.4 M520.5,390 L533.8,387.5 L550.6,380.6 M527.9,384.9 L547.7,378.3 M532.6,385.4 L550,380" fill="none" stroke="#231f20" stroke-width="0.75"/>
<path d="M594.8,450.4 L608.6,444.4 L629.6,469.2 L616.6,475.9 Z" fill="#c9c9c9" stroke="#231f20" stroke-width="0.7"/>
<path d="M593.6,451.8 L615.6,477.4" fill="none" stroke="#231f20" stroke-width="0.7"/>
<ellipse cx="625.6" cy="472.6" rx="4.4" ry="1.7" transform="rotate(-18 625.6 472.6)" fill="#fff" stroke="#231f20" stroke-width="0.9"/>
<path d="M616.6,468.8 L621.4,472.4 L619.8,473 L622,478.8 L617,474.6 L618.4,474 Z" fill="#231f20" stroke="#231f20" stroke-width="0.6" stroke-linejoin="round"/>
<rect x="618.6" y="480.6" width="17" height="20.6" rx="2.6" fill="#3d3a3b"/>
<text x="626.6" y="499.3" font-size="22.5" font-weight="bold" text-anchor="middle" style="fill:#fff">1</text>
<path d="M602.2,381 C601.4,378 602.6,376.2 605.4,375 L627,367 C631,365.6 633.6,366.8 636,369.8 L723.5,470.6 Q725.7,473.6 723.8,475.9 L699.6,486.7 Q696,487.9 694.1,485.4 Z" fill="#fff" stroke="#231f20" stroke-width="1.2" stroke-linejoin="round"/>
<path d="M633,366.9 Q634.8,368 636,369.8 L690,432" fill="none" stroke="#231f20" stroke-width="1.8"/>
<path d="M690,432 L723.5,470.6 Q725.7,473.6 723.8,475.9 L699.6,486.7" fill="none" stroke="#231f20" stroke-width="1.4"/>
<path d="M606.3,381.9 L695.4,483 M616.5,377.6 L698.4,466.2 Q702.4,471 701.6,485.6 M602.8,380.2 L615.8,377.6 L632.7,370.6 M609.2,375.4 L629.9,368.8" fill="none" stroke="#231f20" stroke-width="0.75"/>
<path d="M678.1,441.3 L692.2,435.7 L712.8,458.6 L700.2,464.9 Z" fill="#efefef" stroke="#231f20" stroke-width="0.8"/>
<path d="M683,439.6 L703.4,462.6 M687.4,437.8 L707.8,460.6 M680.4,442.6 L700.2,464.9" fill="none" stroke="#231f20" stroke-width="0.6"/>
<path d="M700.6,464.6 Q700,460.6 703.6,459.4 Q707.2,458.2 708.8,461" fill="#fff" stroke="#231f20" stroke-width="0.7"/>
<rect x="703.2" y="463.6" width="5.4" height="2.8" rx="1.3" transform="rotate(-22 706 465)" fill="#fff" stroke="#231f20" stroke-width="0.6"/>
<path d="M677.3,441.4 L677.7,408.2 Q677.9,405.8 680,404.9 L689.6,401.1 Q692.8,400.2 693,403.6 L691.5,436.4 Z" fill="#d2d2d2" stroke="#231f20" stroke-width="0.9" stroke-linejoin="round"/>
<path d="M682.8,404.8 L690.2,401.9 L690.6,405.4 L683.4,408.4 Z" fill="#e9e9e9" stroke="#231f20" stroke-width="0.6"/>
<rect x="706" y="420" width="16.9" height="20.9" rx="2.6" fill="#3d3a3b"/>
<text x="714.5" y="438.9" font-size="22.5" font-weight="bold" text-anchor="middle" style="fill:#fff">2</text>
<path d="M698.7,424.3 L702.9,427.6 L701.5,428.4 L703.9,434.4 L699.5,430 L700.8,429.2 Z" fill="#231f20" stroke="#231f20" stroke-width="0.9" stroke-linejoin="round"/>
<rect x="779" y="222.45" width="106.7" height="210.8" rx="7.6" fill="#fff" stroke="#231f20" stroke-width="1.05"/>
<rect x="807.3" y="229.7" width="52.9" height="97.9" fill="#ebebeb"/>
<path d="M813.5,416 V242 Q813.5,238.6 817,238.3 Q833.4,236.6 849.8,238.3 Q853.3,238.6 853.3,242 V416 Q853.3,417.5 851.8,417.5 H815 Q813.5,417.5 813.5,416 Z" fill="#fff" stroke="#8c8c8c" stroke-width="0.9"/>
<path d="M813.6,415 V242 Q813.5,238.6 817,238.3" fill="none" stroke="#231f20" stroke-width="1.3"/>
<path d="M814,417.3 H852.6" fill="none" stroke="#231f20" stroke-width="1.2"/>
<path d="M821,237.9 Q833.4,236.8 846,237.9" fill="none" stroke="#231f20" stroke-width="1.2"/>
<path d="M851.9,415 V300" fill="none" stroke="#bbb" stroke-width="0.5"/>
<circle cx="821.7" cy="245.8" r="3.3" fill="#fff" stroke="#3a3637" stroke-width="0.7"/><circle cx="821.7" cy="245.9" r="1.3" fill="none" stroke="#3a3637" stroke-width="0.6"/>
<circle cx="819.7" cy="257.5" r="2.8" fill="#fff" stroke="#3a3637" stroke-width="0.7"/>
<path d="M817.5,252.4 H821.9000000000001" stroke="#777" stroke-width="0.8"/>
<circle cx="829.0" cy="257.5" r="2.8" fill="#fff" stroke="#3a3637" stroke-width="0.7"/>
<path d="M826.8,252.4 H831.2" stroke="#777" stroke-width="0.8"/>
<circle cx="838.8" cy="257.5" r="2.8" fill="#fff" stroke="#3a3637" stroke-width="0.7"/>
<path d="M836.5999999999999,252.4 H841.0" stroke="#777" stroke-width="0.8"/>
<circle cx="847.7" cy="257.5" r="2.8" fill="#fff" stroke="#3a3637" stroke-width="0.7"/>
<path d="M845.5,252.4 H849.9000000000001" stroke="#777" stroke-width="0.8"/>
<circle cx="829.0" cy="257.5" r="1.7" fill="none" stroke="#3a3637" stroke-width="0.6"/>
<path d="M818.2,257.6 H821.2 M837.4,257.6 H840.2 M846.6,256.6 H848.8 M846.6,258.4 H848.8" stroke="#3a3637" stroke-width="0.8"/>
<path d="M818,262.2 H821.4" stroke="#777" stroke-width="0.7"/>
<rect x="817.5" y="265.3" width="10.2" height="7.0" rx="1.2" fill="#fff" stroke="#3a3637" stroke-width="0.6" />
<text x="822.9" y="271.0" font-size="6.6" font-weight="bold" text-anchor="middle" style="fill:#3a3637">1</text>
<rect x="829.2" y="265.3" width="9.6" height="7.0" rx="1.2" fill="#fff" stroke="#3a3637" stroke-width="0.6" />
<text x="834.3" y="271.0" font-size="6.6" font-weight="bold" text-anchor="middle" style="fill:#3a3637">2</text>
<rect x="840.3" y="265.3" width="9.6" height="7.0" rx="1.2" fill="#fff" stroke="#3a3637" stroke-width="0.6" />
<text x="845.4" y="271.0" font-size="6.6" font-weight="bold" text-anchor="middle" style="fill:#3a3637">3</text>
<rect x="817.5" y="274.5" width="10.2" height="7.1" rx="1.2" fill="#fff" stroke="#3a3637" stroke-width="0.6" />
<text x="822.9" y="280.3" font-size="6.6" font-weight="bold" text-anchor="middle" style="fill:#3a3637">4</text>
<rect x="829.2" y="274.5" width="9.6" height="7.1" rx="1.2" fill="#fff" stroke="#3a3637" stroke-width="0.6" />
<text x="834.3" y="280.3" font-size="6.6" font-weight="bold" text-anchor="middle" style="fill:#3a3637">5</text>
<rect x="840.3" y="274.5" width="9.6" height="7.1" rx="1.2" fill="#fff" stroke="#3a3637" stroke-width="0.6" />
<text x="845.4" y="280.3" font-size="6.6" font-weight="bold" text-anchor="middle" style="fill:#3a3637">6</text>
<rect x="817.5" y="284.4" width="10.2" height="7.0" rx="1.2" fill="#fff" stroke="#3a3637" stroke-width="0.6" />
<text x="822.9" y="290.1" font-size="6.6" font-weight="bold" text-anchor="middle" style="fill:#3a3637">7</text>
<rect x="829.2" y="284.4" width="9.6" height="7.0" rx="1.2" fill="#fff" stroke="#3a3637" stroke-width="0.6" />
<text x="834.3" y="290.1" font-size="6.6" font-weight="bold" text-anchor="middle" style="fill:#3a3637">8</text>
<rect x="840.3" y="284.4" width="9.6" height="7.0" rx="1.2" fill="#fff" stroke="#3a3637" stroke-width="0.6" />
<text x="845.4" y="290.1" font-size="6.6" font-weight="bold" text-anchor="middle" style="fill:#3a3637">9</text>
<rect x="817.5" y="293.6" width="10.2" height="7.5" rx="1.2" fill="#fff" stroke="#3a3637" stroke-width="0.6" />
<rect x="829.2" y="293.6" width="9.6" height="7.5" rx="1.2" fill="#fff" stroke="#3a3637" stroke-width="0.6" />
<text x="834.3" y="299.8" font-size="6.6" font-weight="bold" text-anchor="middle" style="fill:#3a3637">0</text>
<rect x="840.3" y="293.6" width="9.6" height="7.5" rx="1.2" fill="#fff" stroke="#3a3637" stroke-width="0.6" />
<path d="M820,297.5 H825 M842.4,297.5 H847.8" stroke="#777" stroke-width="0.8"/>
<path d="M831.4,304.6 H836.6" stroke="#777" stroke-width="0.8"/>
<rect x="817.5" y="307.2" width="9.8" height="18.0" rx="1.4" fill="#fff" stroke="#3a3637" stroke-width="0.6" />
<rect x="840.7" y="307.2" width="9.6" height="18.0" rx="1.4" fill="#fff" stroke="#3a3637" stroke-width="0.6" />
<rect x="829.5" y="307.2" width="9.3" height="3.5" rx="0.8" fill="#fff" stroke="#3a3637" stroke-width="0.6" />
<path d="M831.6,308.9 H836" stroke="#777" stroke-width="0.8"/>
<rect x="829.5" y="314.0" width="9.3" height="4.1" rx="0.8" fill="#fff" stroke="#3a3637" stroke-width="0.6" />
<path d="M831.6,316.1 H836" stroke="#777" stroke-width="0.8"/>
<rect x="829.5" y="321.1" width="9.3" height="4.1" rx="0.8" fill="#fff" stroke="#3a3637" stroke-width="0.6" />
<path d="M831.6,323.1 H836" stroke="#777" stroke-width="0.8"/>
<path d="M819.8,311 H825 M822.4,308.6 V313.4" stroke="#231f20" stroke-width="0.9"/><path d="M819.4,322.2 H825.4" stroke="#231f20" stroke-width="1"/><path d="M820.2,318.4 H824.6 V315.8 Z" fill="none" stroke="#3a3637" stroke-width="0.5"/>
<path d="M842.4,312.2 L845.5,309.6 L848.6,312.2 M842.4,320.2 L845.5,322.8 L848.6,320.2" fill="none" stroke="#231f20" stroke-width="0.9"/>
<text x="845.5" y="318.2" font-size="4.6" text-anchor="middle" style="fill:#231f20">P</text>
<path d="M851.4,309 V313 M851.4,320 V324" stroke="#231f20" stroke-width="0.6"/><path d="M851.4,314.6 V318.4" stroke="#888" stroke-width="0.6" stroke-dasharray="0.8,0.8"/>
<rect x="817.5" y="329.4" width="9.3" height="9.8" rx="1.2" fill="#fff" stroke="#9c9c9c" stroke-width="0.6" />
<path d="M819.3,332.2 H825.0" stroke="#888" stroke-width="0.7"/>
<rect x="827.7" y="329.4" width="13.0" height="9.8" rx="1.2" fill="#fff" stroke="#9c9c9c" stroke-width="0.6" />
<path d="M829.5,332.2 H838.9000000000001" stroke="#888" stroke-width="0.7"/>
<rect x="841.6" y="329.4" width="9.3" height="9.8" rx="1.2" fill="#fff" stroke="#9c9c9c" stroke-width="0.6" />
<path d="M843.4,332.2 H849.1" stroke="#888" stroke-width="0.7"/>
<rect x="817.5" y="362.8" width="9.3" height="9.3" rx="1.2" fill="#fff" stroke="#9c9c9c" stroke-width="0.6" />
<rect x="827.7" y="362.8" width="13.0" height="9.3" rx="1.2" fill="#fff" stroke="#5a5a5a" stroke-width="0.7" />
<rect x="841.6" y="362.8" width="9.3" height="9.3" rx="1.2" fill="#fff" stroke="#9c9c9c" stroke-width="0.6" />
<path d="M830,369.2 H836 M843.4,369.2 H847.2" stroke="#888" stroke-width="0.7"/><path d="M819.4,369.8 L822.6,365.2 L824,366.4 L821,370.2 Z M819.2,370.6 H824.6" fill="none" stroke="#231f20" stroke-width="0.6"/><rect x="837.2" y="368.8" width="1.4" height="1.4" fill="#231f20"/><rect x="848.8" y="367.6" width="1" height="2.8" fill="#231f20"/>
<rect x="819.9" y="336.3" width="27.8" height="28.4" rx="10.5" fill="#fff" stroke="#9c9c9c" stroke-width="0.7"/>
<rect x="828.2" y="344.8" width="11.2" height="11" rx="3.6" fill="#fff" stroke="#9c9c9c" stroke-width="0.7"/>
<path d="M832,339.8 L833.9,338.2 L835.8,339.8 M832,360.4 L833.9,362 L835.8,360.4 M823.6,348.4 L822,350.3 L823.6,352.2 M844.2,348.4 L845.8,350.3 L844.2,352.2" fill="none" stroke="#231f20" stroke-width="1.1"/>
<path d="M832.4,349 H835.4 M833.2,352.6 H834.6" stroke="#777" stroke-width="0.9"/>
<rect x="818.5" y="375.2" width="7.2" height="3.8" rx="1.9" fill="#fff" stroke="#9c9c9c" stroke-width="0.6"/>
<rect x="826.3" y="375.2" width="7.2" height="3.8" rx="1.9" fill="#fff" stroke="#9c9c9c" stroke-width="0.6"/>
<rect x="834.3" y="375.2" width="7.2" height="3.8" rx="1.9" fill="#fff" stroke="#9c9c9c" stroke-width="0.6"/>
<rect x="842.1" y="375.2" width="7.2" height="3.8" rx="1.9" fill="#fff" stroke="#9c9c9c" stroke-width="0.6"/>
<rect x="816.2" y="380.8" width="34.7" height="23.7" rx="0.6" fill="#fff" stroke="#555" stroke-width="0.9" />
<rect x="818.6" y="383.09999999999997" width="8.8" height="3.6" rx="1.6" fill="#fff" stroke="#9c9c9c" stroke-width="0.6"/>
<path d="M820.0,384.9 H826.0" stroke="#231f20" stroke-width="1.5"/>
<rect x="829.4" y="383.09999999999997" width="8.8" height="3.6" rx="1.6" fill="#fff" stroke="#9c9c9c" stroke-width="0.6"/>
<path d="M830.8,384.9 H836.8" stroke="#231f20" stroke-width="1.5"/>
<rect x="840.0" y="383.09999999999997" width="8.8" height="3.6" rx="1.6" fill="#fff" stroke="#9c9c9c" stroke-width="0.6"/>
<path d="M841.4,384.9 H847.4" stroke="#231f20" stroke-width="1.5"/>
<rect x="818.6" y="390.5" width="8.8" height="3.6" rx="1.6" fill="#fff" stroke="#9c9c9c" stroke-width="0.6"/>
<path d="M822.1,392.3 H823.9" stroke="#231f20" stroke-width="1.2"/>
<rect x="829.4" y="390.5" width="8.8" height="3.6" rx="1.6" fill="#fff" stroke="#9c9c9c" stroke-width="0.6"/>
<path d="M832.9,392.3 H834.6999999999999" stroke="#231f20" stroke-width="1.2"/>
<rect x="840.0" y="390.5" width="8.8" height="3.6" rx="1.6" fill="#fff" stroke="#9c9c9c" stroke-width="0.6"/>
<path d="M843.5,392.3 H845.3" stroke="#231f20" stroke-width="1.2"/>
<rect x="818.6" y="397.59999999999997" width="8.8" height="3.6" rx="1.6" fill="#fff" stroke="#9c9c9c" stroke-width="0.6"/>
<path d="M822.1,399.4 H823.9" stroke="#231f20" stroke-width="1.2"/>
<rect x="829.4" y="397.59999999999997" width="8.8" height="3.6" rx="1.6" fill="#fff" stroke="#9c9c9c" stroke-width="0.6"/>
<path d="M832.9,399.4 H834.6999999999999" stroke="#231f20" stroke-width="1.2"/>
<rect x="840.0" y="397.59999999999997" width="8.8" height="3.6" rx="1.6" fill="#fff" stroke="#9c9c9c" stroke-width="0.6"/>
<path d="M841.8,399.4 H847.0" stroke="#999" stroke-width="0.5"/>
</svg>
</div></body></html>
